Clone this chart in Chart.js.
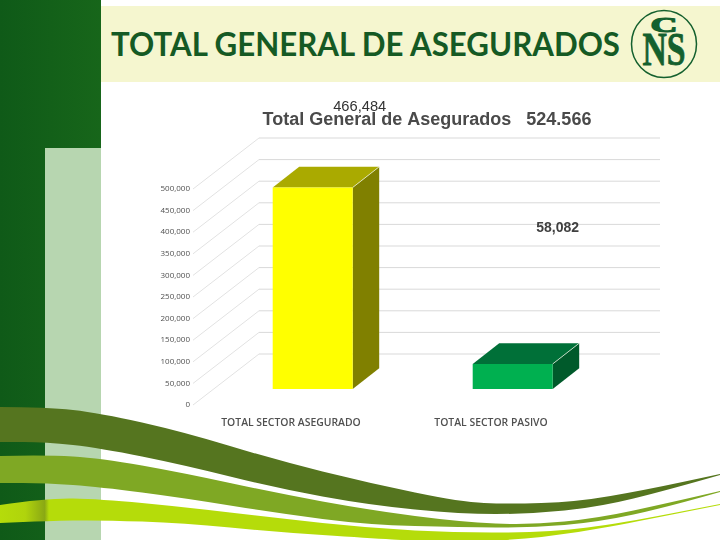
<!DOCTYPE html>
<html>
<head>
<meta charset="utf-8">
<title>Total General de Asegurados</title>
<script src="https://cdn.jsdelivr.net/npm/chart.js@4"></script>
<style>
  html, body { margin: 0; padding: 0; background: #fff; }
  #page { position: relative; width: 720px; height: 540px; overflow: hidden; }
  #page svg, #page canvas { position: absolute; left: 0; top: 0; }
</style>
</head>
<body>
<div id="page">
  <svg id="bg" width="720" height="540" viewBox="0 0 720 540">
    <defs>
      <linearGradient id="band" x1="0" x2="1" y1="0" y2="0">
        <stop offset="0" stop-color="#0f5a18"/>
        <stop offset="1" stop-color="#17661a"/>
      </linearGradient>
      <linearGradient id="lime" gradientUnits="userSpaceOnUse" x1="0" x2="720" y1="0" y2="0">
        <stop offset="0" stop-color="#b5dc0a"/>
        <stop offset="0.035" stop-color="#b0d40c"/>
        <stop offset="0.062" stop-color="#8aa814"/>
        <stop offset="0.068" stop-color="#b5dc0a"/>
        <stop offset="1" stop-color="#b5dc0a"/>
      </linearGradient>
    </defs>
    <rect x="0" y="0" width="101" height="540" fill="url(#band)"/>
    <rect x="45" y="148" width="56" height="392" fill="#b7d6b0"/>
    <rect x="101" y="6" width="619" height="76" fill="#f5f6cf"/>
    <path id="wave1" fill="#55751f"/>
    <path id="wave2" fill="#7fa824"/>
    <path id="wave3" fill="url(#lime)"/>
    <text x="111" y="56" font-family="Lato" font-weight="bold" font-size="33" fill="#155a24"
          textLength="509" lengthAdjust="spacingAndGlyphs">TOTAL GENERAL DE ASEGURADOS</text>
    <ellipse cx="664" cy="44" rx="32.5" ry="33.5" fill="#f5f6cf" stroke="#14602e" stroke-width="1.5"/>
    <text transform="translate(664 32) scale(1.7 0.95)" text-anchor="middle" font-family="Liberation Serif" font-weight="bold"
          font-size="22" fill="#14602e" stroke="#14602e" stroke-width="1.2">C</text>
    <text x="664" y="65" text-anchor="middle" font-family="Liberation Serif" font-weight="bold" font-size="46"
          fill="#14602e" stroke="#14602e" stroke-width="0.8" textLength="43" lengthAdjust="spacingAndGlyphs">NS</text>
  </svg>
  <canvas id="myChart" width="720" height="540"></canvas>
</div>
<script>
"use strict";

const categories = ["TOTAL SECTOR ASEGURADO", "TOTAL SECTOR PASIVO"];
const asegurados = [466484, 58082];
const frontColors = ["#ffff00", "#00b050"];
const topColors = ["#aaaa00", "#007038"];
const sideColors = ["#808000", "#005a2b"];
const yTicks = [0, 50000, 100000, 150000, 200000, 250000, 300000, 350000, 400000, 450000, 500000];
const chartTitle = "Total General de Asegurados   524.566";

// oblique offsets from the axis labels plane
const barPlane = { dx: 21.7, dy: -16 };
const barDepth = { dx: 26.5, dy: -20.7 };
const wallPlane = { dx: 68, dy: -51 };
const wallRight = 660;
const diagonalInset = 2;

const waves = {
  wave1: [
    [[0, 407], [46, 407], [100, 413], [184, 432], [276, 460], [369, 483], [461, 502], [507, 504], [576, 502], [645, 490], [720, 474]],
    [[720, 475], [668, 490], [599, 507], [530, 514], [461, 514], [369, 505], [276, 488], [184, 465], [100, 448], [46, 442], [0, 442]],
  ],
  wave2: [
    [[0, 456], [46, 455], [100, 458], [184, 473], [276, 493], [369, 510], [461, 522], [530, 525], [599, 518], [668, 503], [720, 491]],
    [[720, 492], [668, 507], [599, 522], [530, 528], [461, 527], [369, 525], [276, 513], [184, 498], [100, 487], [46, 483], [0, 483]],
  ],
  wave3: [
    [[0, 505], [46, 498], [100, 499], [184, 507], [276, 518], [369, 528], [461, 533], [553, 532], [622, 523], [720, 504]],
    [[720, 505], [645, 520], [576, 533], [507, 541], [415, 541], [369, 538], [276, 532], [184, 523], [100, 520], [46, 521], [0, 523]],
  ],
};

function smooth(points) {
  let d = "L" + points[0].join(" ");
  for (let i = 1; i < points.length - 1; i++) {
    const mx = (points[i][0] + points[i + 1][0]) / 2;
    const my = (points[i][1] + points[i + 1][1]) / 2;
    d += " Q" + points[i].join(" ") + " " + mx + " " + my;
  }
  return d + " L" + points[points.length - 1].join(" ");
}

Object.keys(waves).forEach((id) => {
  const [upper, lower] = waves[id];
  const d = "M" + smooth(upper).slice(1) + " " + smooth(lower) + " Z";
  document.getElementById(id).setAttribute("d", d);
});

const box3d = {
  id: "box3d",
  beforeDatasetsDraw(chart) {
    const { ctx, chartArea, scales } = chart;
    // back wall and the diagonals down to the tick labels
    ctx.save();
    ctx.lineWidth = 1;
    yTicks.forEach((v) => {
      const y = scales.y.getPixelForValue(v);
      ctx.strokeStyle = "#e2e2e2";
      ctx.beginPath();
      ctx.moveTo(chartArea.left + diagonalInset, y);
      ctx.lineTo(chartArea.left + wallPlane.dx, y + wallPlane.dy);
      ctx.stroke();
      ctx.strokeStyle = "#d9d9d9";
      ctx.beginPath();
      ctx.moveTo(chartArea.left + wallPlane.dx, y + wallPlane.dy);
      ctx.lineTo(wallRight, y + wallPlane.dy);
      ctx.stroke();
    });
    ctx.restore();

    // restored in afterDatasetsDraw, moves the native bars on to their plane
    ctx.save();
    ctx.translate(barPlane.dx, barPlane.dy);
    chart.getDatasetMeta(0).data.forEach((bar, i) => {
      const l = bar.x - bar.width / 2;
      const r = bar.x + bar.width / 2;
      const t = bar.y;
      const b = bar.base;
      ctx.strokeStyle = "#f4f8e8";
      ctx.lineWidth = 0.7;
      ctx.fillStyle = topColors[i];
      ctx.beginPath();
      ctx.moveTo(l, t);
      ctx.lineTo(l + barDepth.dx, t + barDepth.dy);
      ctx.lineTo(r + barDepth.dx, t + barDepth.dy);
      ctx.lineTo(r, t);
      ctx.closePath();
      ctx.fill();
      ctx.fillStyle = sideColors[i];
      ctx.beginPath();
      ctx.moveTo(r, t);
      ctx.lineTo(r + barDepth.dx, t + barDepth.dy);
      ctx.lineTo(r + barDepth.dx, b + barDepth.dy);
      ctx.lineTo(r, b);
      ctx.closePath();
      ctx.fill();
      ctx.beginPath();
      ctx.moveTo(r, t);
      ctx.lineTo(r + barDepth.dx, t + barDepth.dy);
      ctx.stroke();
    });
  },
  afterDatasetsDraw(chart) {
    const { ctx } = chart;
    ctx.restore();

    ctx.save();
    ctx.textAlign = "center";
    ctx.textBaseline = "middle";
    ctx.fillStyle = "#4a4a4a";
    ctx.font = "bold 18px 'Liberation Sans'";
    ctx.fillText(chartTitle, 427, 120);
    ctx.fillStyle = "#333333";
    ctx.font = "14.7px 'Liberation Sans'";
    const meta = chart.getDatasetMeta(0).data;
    ctx.fillText(asegurados[0].toLocaleString("en-US"), meta[0].x + barPlane.dx + 47, 107);
    ctx.fillStyle = "#404040";
    ctx.font = "bold 14px 'Liberation Sans'";
    ctx.fillText(asegurados[1].toLocaleString("en-US"), meta[1].x + barPlane.dx + 45, 228);
    ctx.restore();
  },
};

new Chart(document.getElementById("myChart"), {
  type: "bar",
  data: {
    labels: categories,
    datasets: [
      {
        data: asegurados,
        backgroundColor: frontColors,
        borderWidth: 0,
        barPercentage: 0.4,
        categoryPercentage: 1,
      },
    ],
  },
  options: {
    responsive: false,
    animation: false,
    layout: { padding: { left: 148, right: 129, top: 189, bottom: 105 } },
    plugins: {
      legend: { display: false },
      tooltip: { enabled: false },
    },
    scales: {
      x: {
        grid: { display: false },
        border: { display: false },
        afterFit: (s) => { s.height = 30; },
        ticks: {
          padding: 4,
          maxRotation: 0,
          color: "#505050",
          font: { family: "'Open Sans'", size: 10.4, weight: "600" },
        },
      },
      y: {
        min: 0,
        max: 500000,
        grid: { display: false, drawTicks: false },
        border: { display: false },
        afterFit: (s) => { s.width = 43; },
        afterBuildTicks: (s) => { s.ticks = yTicks.map((value) => ({ value })); },
        ticks: {
          padding: 1,
          color: "#505050",
          font: { family: "'Open Sans'", size: 8 },
          callback: (v) => v.toLocaleString("en-US"),
        },
      },
    },
  },
  plugins: [box3d],
});
</script>
</body>
</html>
